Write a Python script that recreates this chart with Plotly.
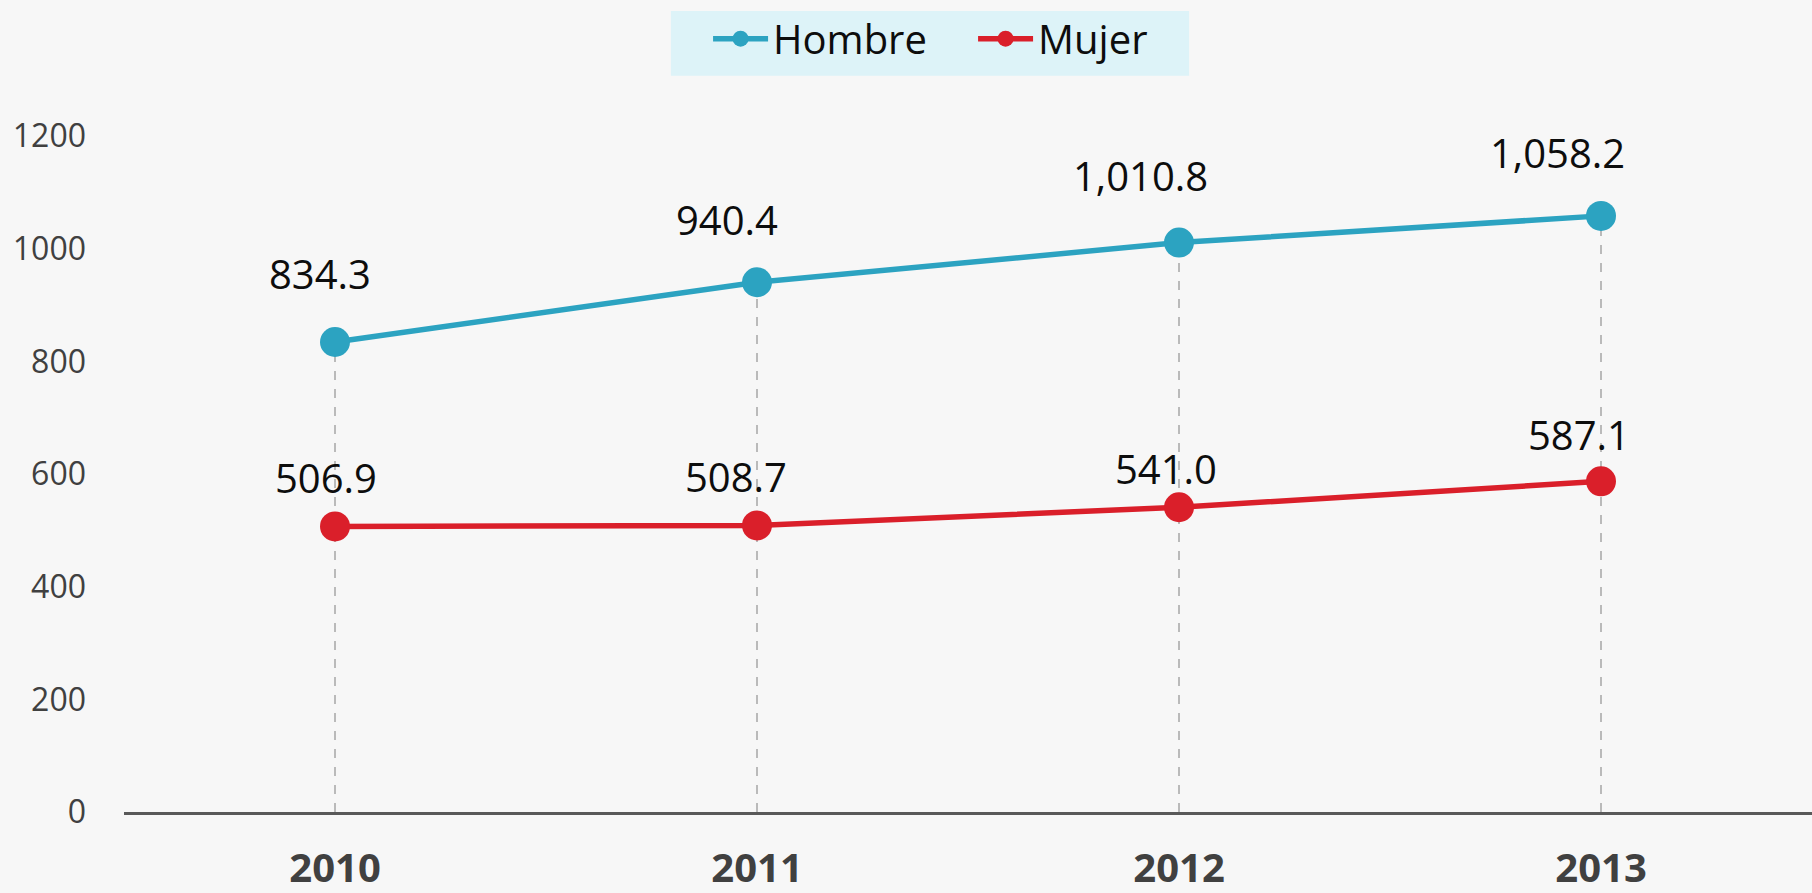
import plotly.graph_objects as go

years = ["2010", "2011", "2012", "2013"]
hombre = [834.3, 940.4, 1010.8, 1058.2]
mujer = [506.9, 508.7, 541.0, 587.1]
y_ticks = [0, 200, 400, 600, 800, 1000, 1200]

# label offsets in pixels (style, not data)
h_xshift = [-15, -30, -39, -44]
h_yshift = [69, 63, 67, 63]
m_xshift = [-9, -21, -13, -22]
m_yshift = [49, 49, 39, 47]

C_H = "#2CA3C1"
C_M = "#DA1F2A"
FONT = "Open Sans"

fig = go.Figure()

# drop lines
dx, dy = [], []
for i, (h, m) in enumerate(zip(hombre, mujer)):
    dx += [i, i, None]
    dy += [0, max(h, m), None]
fig.add_trace(go.Scatter(x=dx, y=dy, mode="lines", showlegend=False, hoverinfo="skip",
                         line=dict(color="#A6A6A6", width=1.5, dash="dash")))

xi = list(range(len(years)))
fig.add_trace(go.Scatter(x=xi, y=hombre, name="Hombre", mode="lines+markers",
                         line=dict(color=C_H, width=5.5),
                         marker=dict(color=C_H, size=30), cliponaxis=False))
fig.add_trace(go.Scatter(x=xi, y=mujer, name="Mujer", mode="lines+markers",
                         line=dict(color=C_M, width=5.5),
                         marker=dict(color=C_M, size=30), cliponaxis=False))

def fmt(v):
    return f"{v:,.1f}"

for i, v, xs, ys in zip(xi, hombre, h_xshift, h_yshift):
    fig.add_annotation(x=i, y=v, xref="x", yref="y", text=fmt(v), showarrow=False,
                       xshift=xs, yshift=ys,
                       font=dict(family=FONT, size=40, color="#0D0D0D"))
for i, v, xs, ys in zip(xi, mujer, m_xshift, m_yshift):
    fig.add_annotation(x=i, y=v, xref="x", yref="y", text=fmt(v), showarrow=False,
                       xshift=xs, yshift=ys,
                       font=dict(family=FONT, size=40, color="#0D0D0D"))

# legend background box
fig.add_shape(type="rect", xref="paper", yref="paper", x0=0.324, x1=0.631,
              y0=1.089, y1=1.185, fillcolor="#DDF3F8", line=dict(width=0), layer="below")

fig.update_layout(
    width=1812, height=893,
    paper_bgcolor="#F7F7F7", plot_bgcolor="#F7F7F7",
    margin=dict(l=124, r=0, t=136, b=81),
    font=dict(family=FONT),
    showlegend=True,
    legend=dict(orientation="h", x=0.503, xanchor="center", y=1.192, yanchor="top",
                bgcolor="rgba(0,0,0,0)", font=dict(family=FONT, size=40, color="#0D0D0D"),
                itemsizing="trace", traceorder="normal", itemwidth=55,
                entrywidth=195, entrywidthmode="pixels"),
    xaxis=dict(range=[-0.5, 3.5], tickvals=xi, ticktext=years, showgrid=False,
               zeroline=False, showline=True, linecolor="#595959", linewidth=3,
               tickfont=dict(family=FONT, size=40, color="#404040", weight="bold"),
               ticks="", ticklabelstandoff=19, automargin=False),
    yaxis=dict(range=[0, 1200], tickvals=y_ticks, showgrid=False, zeroline=False,
               showline=False, tickfont=dict(family=FONT, size=32, color="#404040"),
               ticks="", ticklabelstandoff=37, automargin=False),
)

fig.write_html("out.html", config={"displayModeBar": False},
               post_script="document.body.style.margin='0';document.body.style.overflow='hidden';")
